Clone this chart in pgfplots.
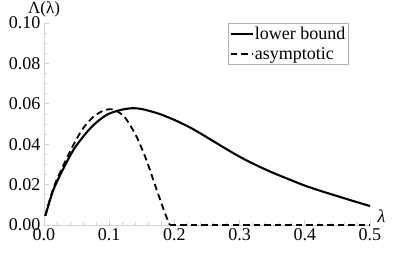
\documentclass[border=0pt]{standalone}
\usepackage{fontspec}
\setmainfont{LiberationSerif}[Extension=.ttf, UprightFont=*-Regular, ItalicFont=*-Italic, BoldFont=*-Bold, BoldItalicFont=*-BoldItalic]
\usepackage{pgfplots}
\pgfplotsset{compat=1.18}
\begin{document}
\begin{tikzpicture}
\begin{axis}[
  scale only axis, width=326pt, height=202pt,
  axis lines=middle,
  axis line style={draw=gray!35, -},
  xmin=0, xmax=0.5, ymin=0, ymax=0.1,
  xtick={0,0.1,0.2,0.3,0.4,0.5},
  ytick={0,0.02,0.04,0.06,0.08,0.1},
  minor x tick num=4, minor y tick num=3,
  tick style={draw=gray!35, line width=0.6pt},
  major tick length=5pt, minor tick length=3pt,
  tick align=inside,
  hide obscured x ticks=false, hide obscured y ticks=false,
  x tick label style={/pgf/number format/.cd, fixed, fixed zerofill, precision=1, assume math mode=true},
  y tick label style={/pgf/number format/.cd, fixed, fixed zerofill, precision=2, assume math mode=true},
  tick label style={font=\rmfamily\fontsize{18}{21}\selectfont},
  scaled y ticks=false,
  xlabel={λ}, ylabel={Λ(λ)},
  every axis x label/.style={at={(axis cs:0.5,0)}, anchor=south west, xshift=4pt, yshift=-1pt, font=\rmfamily\fontsize{18}{21}\selectfont\itshape},
  every axis y label/.style={at={(axis cs:0,0.1)}, anchor=south, yshift=2pt, font=\rmfamily\fontsize{17}{20}\selectfont},
  legend style={at={(0.563,1.0)}, anchor=north west, draw=gray!60, fill=white,
    font=\rmfamily\fontsize{18}{21}\selectfont, inner xsep=2pt, inner ysep=1pt,
    nodes={inner xsep=1pt, inner ysep=3pt}},
  legend cell align=left,
  legend image code/.code={\draw[#1] (0pt,0pt) -- (22pt,0pt);},
  clip=false,
]
\addplot[black, line width=2.1pt, smooth] coordinates {
(0.002,0.0045)(0.0143,0.0173)(0.03,0.0281)(0.045,0.0371)(0.06,0.0437)(0.076,0.0495)
(0.096,0.0545)(0.117,0.0569)(0.135,0.0578)(0.15,0.0574)(0.175,0.0552)(0.2,0.0520)
(0.225,0.0481)(0.25,0.0434)(0.275,0.0385)(0.3,0.0338)(0.325,0.0297)(0.35,0.0260)
(0.375,0.0227)(0.4,0.0195)(0.425,0.0168)(0.45,0.0143)(0.475,0.0118)(0.5,0.0094)
};
\addlegendentry{lower bound}
\addplot[black, line width=1.8pt, dash pattern=on 6.5pt off 4pt, smooth] coordinates {
(0.002,0.0045)(0.0143,0.0182)(0.03,0.0297)(0.045,0.0396)(0.06,0.0479)(0.076,0.0536)
(0.091,0.0566)(0.104,0.0573)(0.117,0.0553)(0.127,0.052)(0.142,0.0437)(0.157,0.0322)
(0.173,0.0173)(0.1856,0.0058)(0.193,0)
};
\addlegendentry{asymptotic}
\addplot[black, line width=1.8pt, dash pattern=on 6.5pt off 4pt, forget plot] coordinates {
(0.193,0)(0.5,0)
};
\end{axis}
\pgfresetboundingbox
\path (current axis.origin) ++(-44pt,-28pt) rectangle ++(407pt,253pt);
\end{tikzpicture}
\end{document}
